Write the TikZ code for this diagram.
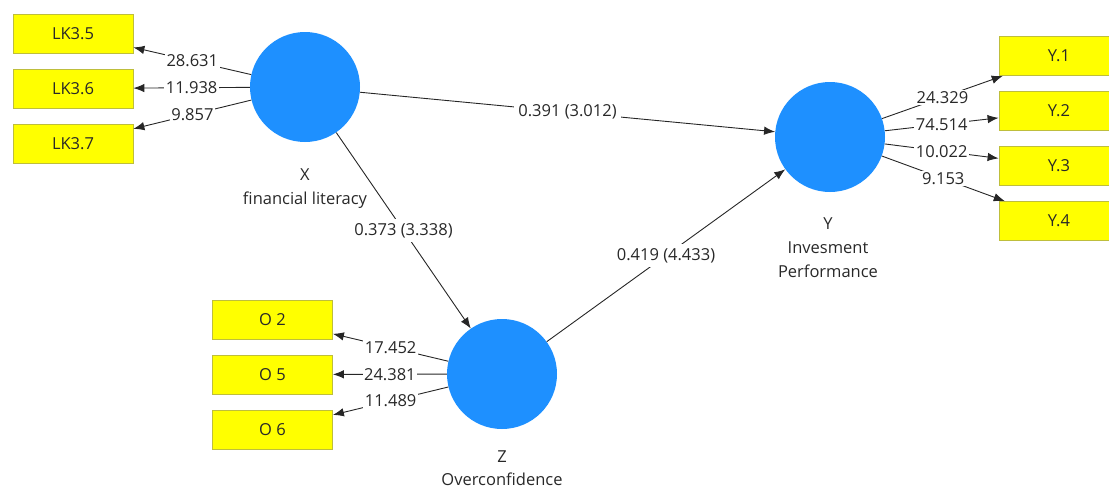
\documentclass[tikz,border=0pt]{standalone}
\usepackage{fontspec}
\setmainfont{Open Sans}
\usetikzlibrary{arrows.meta}
\definecolor{lvblue}{RGB}{30,144,255}
\definecolor{mvyellow}{RGB}{255,255,0}
\definecolor{mvborder}{RGB}{190,190,60}
\definecolor{txt}{RGB}{40,40,40}
\tikzset{
  latent/.style={circle, fill=lvblue, draw=none, minimum size=110pt, inner sep=0pt},
  indicator/.style={rectangle, fill=mvyellow, draw=mvborder, line width=0.8pt,
    minimum width=120pt, minimum height=39pt, inner sep=0pt,
    font=\fontsize{16.5}{18}\selectfont, text=txt},
  caption/.style={font=\fontsize{16.5}{18}\selectfont, text=txt, inner sep=0pt,
    text height=12pt, text depth=3pt},
  link/.style={draw=black!85, line width=0.9pt, -{Latex[length=11pt,width=8.5pt]}},
  coef/.style={fill=white, inner sep=1.5pt, font=\fontsize{16.5}{18}\selectfont, text=txt}
}
\begin{document}
\begin{tikzpicture}[x=1pt,y=-1pt]
\useasboundingbox (0,0) rectangle (1109,490);

% latent variables
\node[latent] (X) at (305,87) {};
\node[latent] (Y) at (830,137) {};
\node[latent] (Z) at (502,374) {};

% captions below the latent variables
\node[caption] (Xname) at (305,176) {X};
\node[caption] (Xlabel) at (305,200) {financial literacy};
\node[caption] (Yname) at (828,225) {Y};
\node[caption] (Ylabel1) at (828,249) {Invesment};
\node[caption] (Ylabel2) at (828,273) {Performance};
\node[caption] (Zname) at (502,458) {Z};
\node[caption] (Zlabel) at (502,481) {Overconfidence};

% indicators
\node[indicator] (lk35) at (73,33.5) {LK3.5};
\node[indicator] (lk36) at (73,88.5) {LK3.6};
\node[indicator] (lk37) at (73,143.5) {LK3.7};

\node[indicator] (y1) at (1059,56) {Y.1};
\node[indicator] (y2) at (1059,111) {Y.2};
\node[indicator] (y3) at (1059,166) {Y.3};
\node[indicator] (y4) at (1059,221) {Y.4};

\node[indicator] (o2) at (272.5,319.5) {O 2};
\node[indicator] (o5) at (272.5,374.5) {O 5};
\node[indicator] (o6) at (272.5,429.5) {O 6};

% outer loadings
\draw[link] (X) -- node[coef] {28.631} (lk35);
\draw[link] (X) -- node[coef] {11.938} (lk36);
\draw[link] (X) -- node[coef] {9.857} (lk37);

\draw[link] (Y) -- node[coef] {24.329} (y1);
\draw[link] (Y) -- node[coef] {74.514} (y2);
\draw[link] (Y) -- node[coef] {10.022} (y3);
\draw[link] (Y) -- node[coef] {9.153} (y4);

\draw[link] (Z) -- node[coef] {17.452} (o2);
\draw[link] (Z) -- node[coef] {24.381} (o5);
\draw[link] (Z) -- node[coef] {11.489} (o6);

% structural paths
\draw[link] (X) -- node[coef, inner xsep=4pt] {0.391 (3.012)} (Y);
\draw[link] (X) -- node[coef, inner ysep=4pt] {0.373 (3.338)} (Z);
\draw[link] (Z) -- node[coef, inner ysep=4pt] {0.419 (4.433)} (Y);
\end{tikzpicture}
\end{document}
